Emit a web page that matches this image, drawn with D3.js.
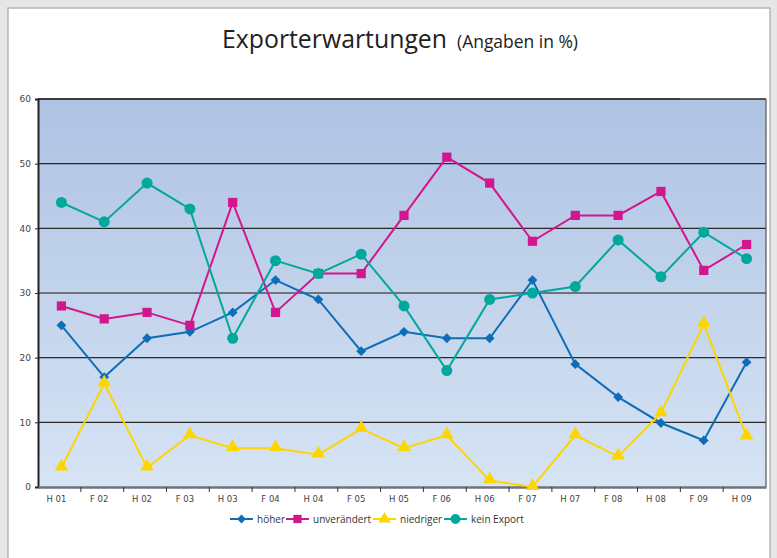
<!DOCTYPE html>
<html><head><meta charset="utf-8">
<script src="https://cdn.jsdelivr.net/npm/d3@7"></script>
<style>
html,body{margin:0;padding:0;background:#fff;}
svg{display:block;}
</style></head>
<body>
<svg id="c" width="777" height="558"></svg>
<script>
const categories = ["H 01","F 02","H 02","F 03","H 03","F 04","H 04","F 05","H 05","F 06","H 06","F 07","H 07","F 08","H 08","F 09","H 09"];
const hoeher      = [25,17,23,24,27,32,29,21,24,23,23,32,19,13.9,9.9,7.2,19.3];
const unveraendert= [28,26,27,25,44,27,33,33,42,51,47,38,42,42,45.7,33.5,37.5];
const niedriger   = [3,16,3,8,6,6,5,9,6,8,1,0,8,4.7,11.4,25.2,7.8];
const keinExport  = [44,41,47,43,23,35,33,36,28,18,29,30,31,38.2,32.5,39.4,35.3];
const yTicks = [0,10,20,30,40,50,60];
const seriesNames = ["höher","unverändert","niedriger","kein Export"];

const series = [
  {name: seriesNames[0], values: hoeher, color: "#0f6db8", sym: "diamond"},
  {name: seriesNames[1], values: unveraendert, color: "#d2168e", sym: "square"},
  {name: seriesNames[2], values: niedriger, color: "#fdd500", sym: "triangle"},
  {name: seriesNames[3], values: keinExport, color: "#02a89c", sym: "circle"}
];

const svg = d3.select("#c");
svg.append("rect").attr("x",0).attr("y",0).attr("width",777).attr("height",558).attr("fill","#e6e6e6");
svg.append("rect").attr("x",8).attr("y",8).attr("width",762).attr("height",560).attr("fill","#fff").attr("stroke","#b5b5b5").attr("stroke-width",1.5);

const L=38, R=766, T=99, B=487;
const x = d3.scaleBand().domain(categories).range([L,R]);
const y = d3.scaleLinear().domain([0,60]).range([B,T]);

const defs = svg.append("defs");
const g = defs.append("linearGradient").attr("id","bg").attr("x1",0).attr("y1",0).attr("x2",0).attr("y2",1);
g.append("stop").attr("offset","0%").attr("stop-color","#aec2e3");
g.append("stop").attr("offset","100%").attr("stop-color","#d6e4f4");
svg.append("rect").attr("x",L).attr("y",T).attr("width",R-L).attr("height",B-T).attr("fill","url(#bg)");

svg.append("g").selectAll("line").data(yTicks.filter(d=>d>0)).join("line")
  .attr("x1",L).attr("x2",R).attr("y1",d=>y(d)).attr("y2",d=>y(d))
  .attr("stroke",d=>d===30?"#6f737a":"#2a2a2a").attr("stroke-width",d=>d===30?2:1.4);
svg.append("line").attr("x1",L).attr("x2",680).attr("y1",y(60)).attr("y2",y(60)).attr("stroke","#3a3a3a").attr("stroke-width",2);
svg.append("line").attr("x1",R).attr("x2",R).attr("y1",T).attr("y2",B).attr("stroke","#555").attr("stroke-width",1.2);

const yAxis = svg.append("g").attr("transform",`translate(${L},0)`)
  .call(d3.axisLeft(y).tickValues(yTicks).tickSize(3).tickPadding(4));
yAxis.select(".domain").attr("stroke","#222").attr("stroke-width",2);
yAxis.selectAll(".tick line").attr("stroke","#222");
yAxis.selectAll("text").attr("font-family","DejaVu Sans, sans-serif").attr("font-size",9).attr("fill","#444");

const xAxis = svg.append("g").attr("transform",`translate(0,${B})`)
  .call(d3.axisBottom(x).tickSize(0).tickPadding(9));
xAxis.select(".domain").attr("stroke","#6f737a").attr("stroke-width",2.5);
xAxis.selectAll("text").attr("font-family","DejaVu Sans, sans-serif").attr("font-size",8.5).attr("fill","#444").attr("dx",-3);
svg.append("g").selectAll("line").data(categories.slice(1)).join("line")
  .attr("x1",d=>x(d)).attr("x2",d=>x(d)).attr("y1",B).attr("y2",B+5)
  .attr("stroke","#333").attr("stroke-width",1);

const cx = d => x(d) + x.bandwidth()/2 + 2;
const symType = {diamond:d3.symbolSquare, square:d3.symbolSquare, triangle:d3.symbolTriangle, circle:d3.symbolCircle};
const symSize = {diamond:48, square:85, triangle:80, circle:95};
const symRot = {diamond:45, square:0, triangle:0, circle:0};

const line = d3.line().x((d,i)=>cx(categories[i])).y(d=>y(d));
series.forEach(s=>{
  svg.append("path").datum(s.values).attr("d",line).attr("fill","none")
    .attr("stroke",s.color).attr("stroke-width",2);
});
series.forEach(s=>{
  svg.append("g").selectAll("path").data(s.values).join("path")
    .attr("transform",(d,i)=>`translate(${cx(categories[i])},${y(d) + (s.sym==="triangle"?-1:0)}) rotate(${symRot[s.sym]})`)
    .attr("d",d3.symbol().type(symType[s.sym]).size(symSize[s.sym]))
    .attr("fill",s.color);
});

// title
const title = svg.append("text").attr("y",48)
  .attr("font-family","'Open Sans', sans-serif").attr("fill","#222");
title.append("tspan").attr("x",222).attr("font-size",26)
  .attr("textLength",225).attr("lengthAdjust","spacingAndGlyphs").text("Exporterwartungen");
title.append("tspan").attr("x",457).attr("font-size",18)
  .attr("textLength",121).attr("lengthAdjust","spacingAndGlyphs").text("(Angaben in %)");

const legX = [230,286,373,444];
const leg = svg.append("g");
series.forEach((s,i)=>{
  const lx = legX[i], ly = 519;
  leg.append("line").attr("x1",lx).attr("x2",lx+23).attr("y1",ly).attr("y2",ly).attr("stroke",s.color).attr("stroke-width",2);
  leg.append("path").attr("transform",`translate(${lx+11.5},${ly}) rotate(${symRot[s.sym]})`)
    .attr("d",d3.symbol().type(symType[s.sym]).size(symSize[s.sym]*0.8)).attr("fill",s.color);
  leg.append("text").attr("x",lx+27).attr("y",ly+3.5).attr("font-family","'Open Sans', sans-serif")
    .attr("font-size",10).attr("fill","#333").text(s.name);
});
</script>
</body></html>
